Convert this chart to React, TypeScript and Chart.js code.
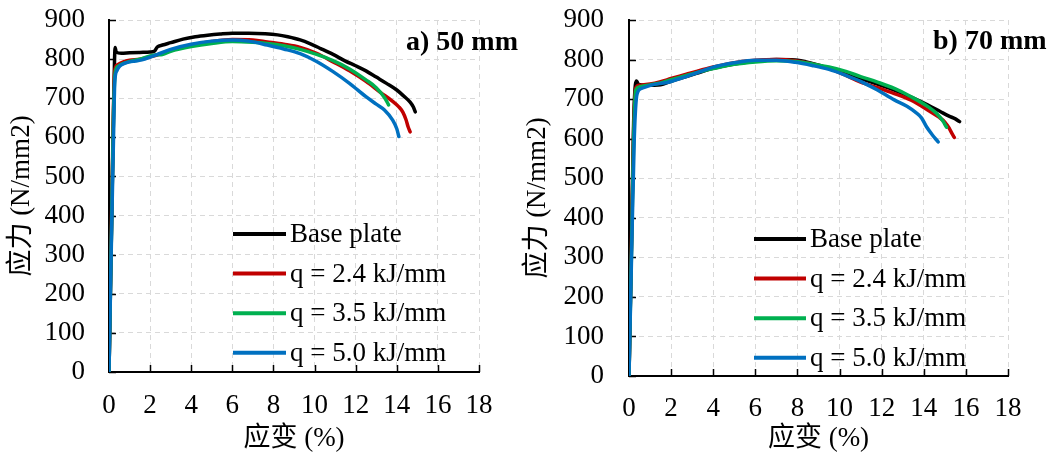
import React, { useEffect, useRef } from "react";
import { Chart, registerables } from "chart.js";

Chart.register(...registerables);

const FONT = "'Liberation Serif', 'Times New Roman', 'Noto Sans CJK SC', serif";

// Axis ticks
const xTicks = [0, 2, 4, 6, 8, 10, 12, 14, 16, 18];
const yTicks = [0, 100, 200, 300, 400, 500, 600, 700, 800, 900];

// Series names / colours
const seriesLabels = ["Base plate", "q = 2.4 kJ/mm", "q = 3.5 kJ/mm", "q = 5.0 kJ/mm"];
const seriesColors = ["#000000", "#C00000", "#00B050", "#0070C0"];

// ---- a) 50 mm ----
const base50Strain = [0, 0.1, 0.2, 0.27, 0.3, 0.35, 0.6, 1.0, 1.5, 2.0, 2.2, 2.35, 2.6, 3.0, 3.6, 4.2, 4.8, 5.4, 6.0, 6.8, 7.6, 8.2, 8.7, 9.3, 9.8, 10.3, 10.9, 11.5, 12.0, 12.5, 13.0, 13.5, 14.0, 14.35, 14.65, 14.8, 14.9];
const base50Stress = [0, 300, 600, 800, 830, 818, 815, 816, 817, 818, 820, 831, 836, 842, 851, 857, 861, 864, 866, 866, 865, 862, 857, 849, 839, 827, 812, 795, 783, 770, 754, 738, 721, 705, 690, 678, 665];

const q24a50Strain = [0, 0.12, 0.22, 0.28, 0.4, 0.7, 1.0, 1.5, 2.0, 2.5, 3.0, 4.0, 5.0, 6.0, 7.0, 7.7, 8.5, 9.3, 10.1, 10.9, 11.7, 12.5, 13.2, 13.8, 14.1, 14.3, 14.45, 14.55, 14.65];
const q24a50Stress = [0, 380, 680, 770, 785, 793, 797, 800, 806, 813, 822, 836, 845, 850, 849, 844, 838, 830, 815, 793, 770, 743, 715, 692, 678, 664, 645, 627, 614];

const q35a50Strain = [0, 0.12, 0.22, 0.3, 0.45, 0.7, 1.0, 1.5, 2.0, 2.3, 2.6, 3.0, 4.0, 5.0, 6.0, 7.0, 7.7, 8.5, 9.3, 10.1, 10.9, 11.7, 12.5, 13.0, 13.4, 13.6];
const q35a50Stress = [0, 360, 660, 765, 782, 789, 794, 800, 808, 811, 812, 820, 832, 840, 845, 843, 840, 834, 825, 812, 796, 775, 747, 727, 702, 683];

const q50a50Strain = [0, 0.13, 0.22, 0.28, 0.38, 0.5, 0.75, 1.0, 1.3, 1.6, 2.0, 2.5, 3.0, 4.0, 5.0, 6.0, 6.8, 7.7, 8.5, 9.3, 10.1, 10.9, 11.7, 12.5, 13.0, 13.4, 13.8, 14.0, 14.1];
const q50a50Stress = [0, 370, 600, 740, 770, 781, 789, 793, 795, 798, 805, 815, 825, 838, 846, 849, 846, 836, 826, 814, 794, 768, 738, 704, 685, 670, 644, 622, 602];

// ---- b) 70 mm ----
const base70Strain = [0, 0.12, 0.22, 0.3, 0.36, 0.45, 0.8, 1.2, 1.5, 2.0, 2.6, 3.2, 4.0, 5.0, 6.0, 7.0, 7.9, 8.7, 9.5, 10.3, 11.0, 11.8, 12.6, 13.4, 14.2, 14.8, 15.2, 15.5, 15.7];
const base70Stress = [0, 350, 640, 735, 746, 737, 735, 735, 736, 745, 755, 765, 778, 789, 796, 800, 799, 790, 778, 766, 752, 738, 723, 705, 685, 668, 657, 650, 643];

const q24b70Strain = [0, 0.12, 0.22, 0.32, 0.5, 1.0, 1.5, 2.0, 2.6, 3.2, 4.0, 5.0, 6.0, 7.0, 7.9, 8.7, 9.5, 10.3, 11.0, 11.8, 12.6, 13.4, 14.2, 14.7, 15.0, 15.2, 15.35, 15.45];
const q24b70Stress = [0, 340, 620, 728, 735, 738, 744, 752, 761, 770, 781, 792, 798, 800, 797, 789, 777, 760, 743, 729, 714, 697, 672, 655, 642, 627, 612, 603];

const q35b70Strain = [0, 0.12, 0.22, 0.32, 0.5, 1.0, 1.5, 2.0, 2.6, 3.2, 4.0, 5.0, 6.0, 7.0, 7.9, 8.7, 9.5, 10.3, 11.0, 11.8, 12.6, 13.4, 14.2, 14.6, 14.9, 15.08];
const q35b70Stress = [0, 320, 600, 722, 731, 736, 741, 749, 758, 767, 777, 788, 794, 797, 795, 789, 781, 770, 757, 743, 727, 706, 681, 664, 645, 629];

const q50b70Strain = [0, 0.12, 0.25, 0.38, 0.6, 1.1, 1.8, 2.6, 3.2, 4.0, 5.0, 6.0, 7.0, 7.9, 8.7, 9.5, 10.3, 11.0, 11.8, 12.6, 13.2, 13.6, 13.9, 14.13, 14.4, 14.68];
const q50b70Stress = [0, 300, 600, 712, 727, 736, 742, 755, 766, 781, 792, 798, 798, 793, 785, 775, 760, 745, 723, 698, 682, 667, 652, 630, 610, 592];

const pairs = (xs: number[], ys: number[]) => xs.map((x, i) => ({ x, y: ys[i] }));

const panelPlugin = {
  id: "panel",
  beforeDatasetsDraw(chart: any) {
    const { ctx, chartArea: a, scales } = chart;
    const x = scales.x;
    const y = scales.y;
    ctx.save();
    ctx.strokeStyle = "#000";
    ctx.lineWidth = 1.5;
    ctx.beginPath();
    x.ticks.forEach((t: any) => {
      const px = Math.round(x.getPixelForValue(t.value)) + 0.5;
      ctx.moveTo(px, a.bottom);
      ctx.lineTo(px, a.bottom - 7);
    });
    y.ticks.forEach((t: any) => {
      const py = Math.round(y.getPixelForValue(t.value)) + 0.5;
      ctx.moveTo(a.left, py);
      ctx.lineTo(a.left + 7, py);
    });
    ctx.stroke();
    ctx.restore();
  },
  afterDatasetsDraw(chart: any, _args: any, o: any) {
    const { ctx } = chart;
    ctx.save();
    ctx.font = `27px ${FONT}`;
    ctx.textBaseline = "middle";
    ctx.textAlign = "left";
    chart.data.datasets.forEach((ds: any, i: number) => {
      const yy = o.legendY + i * o.legendGap;
      ctx.strokeStyle = ds.borderColor;
      ctx.lineWidth = 4;
      ctx.beginPath();
      ctx.moveTo(o.legendX, yy);
      ctx.lineTo(o.legendX + o.lineLen, yy);
      ctx.stroke();
      ctx.fillStyle = "#000";
      ctx.fillText(ds.label, o.legendX + o.lineLen + 4, yy + 1);
    });
    ctx.font = `bold 28px ${FONT}`;
    ctx.textBaseline = "alphabetic";
    ctx.fillText(o.title, o.titleX, o.titleY);
    ctx.restore();
  },
};

type PanelProps = {
  left: number;
  width: number;
  axisWidth: number;
  axisHeight: number;
  rightPad: number;
  topPad: number;
  yTitlePad: number;
  yTickPad: number;
  xTickPad: number;
  series: { x: number; y: number }[][];
  panel: any;
};

function Panel(p: PanelProps) {
  const ref = useRef<HTMLCanvasElement | null>(null);
  useEffect(() => {
    if (!ref.current) return;
    const chart = new Chart(ref.current, {
      type: "line",
      data: {
        datasets: p.series.map((d, i) => ({
          label: seriesLabels[i],
          data: d,
          borderColor: seriesColors[i],
          backgroundColor: seriesColors[i],
          borderWidth: 3.5,
          pointRadius: 0,
          fill: false,
          cubicInterpolationMode: "monotone" as const,
          borderCapStyle: "round" as const,
          borderJoinStyle: "round" as const,
          order: 4 - i,
        })),
      },
      options: {
        responsive: false,
        animation: false,
        parsing: false as any,
        normalized: true,
        layout: { padding: { left: 0, top: p.topPad, right: p.rightPad, bottom: 0 } },
        plugins: {
          legend: { display: false },
          tooltip: { enabled: false },
          panel: p.panel,
        } as any,
        scales: {
          x: {
            type: "linear",
            min: 0,
            max: 18,
            afterBuildTicks: (s: any) => {
              s.ticks = xTicks.map((v) => ({ value: v }));
            },
            afterFit: (s: any) => {
              s.height = p.axisHeight;
              s.paddingLeft = 0;
              s.paddingRight = 0;
            },
            grid: { color: "#D9D9D9", lineWidth: 1, drawTicks: false },
            border: { display: true, color: "#000", width: 2, dash: [5, 4] },
            ticks: {
              color: "#000",
              padding: p.xTickPad,
              font: { family: FONT, size: 27 },
              maxRotation: 0,
              autoSkip: false,
            },
            title: {
              display: true,
              text: "应变 (%)",
              color: "#000",
              font: { family: FONT, size: 27, lineHeight: 1 },
              padding: { top: 0, bottom: 0 },
            },
          },
          y: {
            type: "linear",
            min: 0,
            max: 900,
            afterBuildTicks: (s: any) => {
              s.ticks = yTicks.map((v) => ({ value: v }));
            },
            afterFit: (s: any) => {
              s.width = p.axisWidth;
              s.paddingTop = 0;
              s.paddingBottom = 0;
            },
            grid: { color: "#D9D9D9", lineWidth: 1, drawTicks: false },
            border: { display: true, color: "#000", width: 2, dash: [5, 4] },
            ticks: {
              color: "#000",
              padding: p.yTickPad,
              font: { family: FONT, size: 27 },
              autoSkip: false,
            },
            title: {
              display: true,
              text: "应力 (N/mm2)",
              color: "#000",
              font: { family: FONT, size: 27, lineHeight: 1 },
              padding: { top: p.yTitlePad, bottom: 0 },
            },
          },
        },
      },
      plugins: [panelPlugin as any],
    });
    return () => chart.destroy();
  }, []);
  return (
    <canvas
      ref={ref}
      width={p.width}
      height={452}
      style={{ position: "absolute", left: p.left, top: 0, width: p.width, height: 452 }}
    />
  );
}

export default function App() {
  return (
    <div style={{ position: "fixed", left: 0, top: 0, width: 1058, height: 452, background: "#fff" }}>
      <Panel
        left={0}
        width={529}
        axisWidth={109}
        axisHeight={80}
        rightPad={50}
        topPad={20}
        yTitlePad={8}
        yTickPad={24}
        xTickPad={18}
        series={[
          pairs(base50Strain, base50Stress),
          pairs(q24a50Strain, q24a50Stress),
          pairs(q35a50Strain, q35a50Stress),
          pairs(q50a50Strain, q50a50Stress),
        ]}
        panel={{ title: "a) 50 mm", titleX: 406, titleY: 50, legendX: 233, legendY: 234, legendGap: 39.6, lineLen: 53 }}
      />
      <Panel
        left={520}
        width={538}
        axisWidth={109}
        axisHeight={76}
        rightPad={50}
        topPad={20}
        yTitlePad={4}
        yTickPad={25}
        xTickPad={17}
        series={[
          pairs(base70Strain, base70Stress),
          pairs(q24b70Strain, q24b70Stress),
          pairs(q35b70Strain, q35b70Stress),
          pairs(q50b70Strain, q50b70Stress),
        ]}
        panel={{ title: "b) 70 mm", titleX: 413, titleY: 49, legendX: 234, legendY: 239, legendGap: 39.6, lineLen: 52 }}
      />
    </div>
  );
}
